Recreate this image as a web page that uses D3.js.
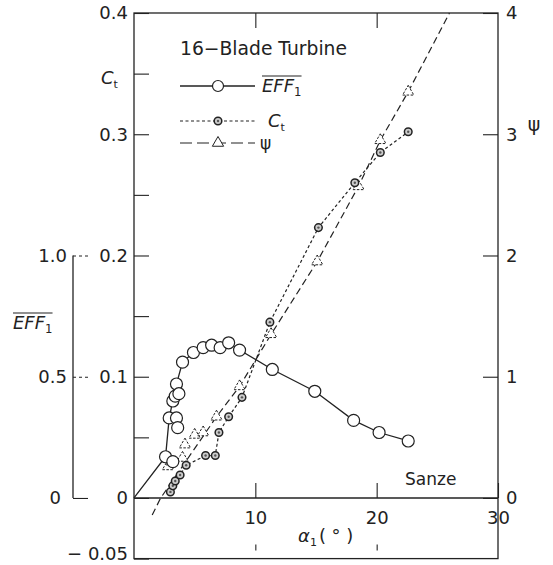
<!DOCTYPE html>
<html>
<head>
<meta charset="utf-8">
<script src="https://cdn.jsdelivr.net/npm/d3@7"></script>
<style>
  body { margin: 0; background: #fff; }
  text { font-family: "DejaVu Sans", sans-serif; fill: #222; }
</style>
</head>
<body>
<div id="chart"></div>
<script>
// ---- data ----
// EFF1 (open circles, solid line)
var effAlpha = [2.6, 2.9, 3.2, 3.4, 3.5, 4.0, 4.9, 5.7, 6.4, 7.1, 7.8, 8.7, 11.4, 14.9, 18.1, 20.2, 22.6];
var effValue = [0.17, 0.33, 0.40, 0.42, 0.47, 0.56, 0.60, 0.62, 0.63, 0.62, 0.64, 0.61, 0.53, 0.44, 0.32, 0.27, 0.235];
var effExtraAlpha = [3.2, 3.5, 3.6, 3.7];
var effExtraValue = [0.15, 0.33, 0.29, 0.43];
var effLineStart = [0, 0];

// Ct (dotted circles, short dashes)
var ctAlpha = [3.0, 3.2, 3.4, 3.8, 4.3, 5.9, 6.7, 7.0, 7.8, 8.9, 11.2, 15.2, 18.2, 20.3, 22.6];
var ctValue = [0.005, 0.010, 0.014, 0.019, 0.027, 0.035, 0.035, 0.054, 0.067, 0.083, 0.145, 0.223, 0.260, 0.285, 0.302];

// psi (triangles, long dashes)
var psiAlpha = [2.8, 3.1, 4.0, 4.2, 5.0, 5.7, 6.8, 8.7, 11.3, 15.1, 18.5, 20.3, 22.6];
var psiValue = [0.26, 0.30, 0.33, 0.44, 0.52, 0.54, 0.67, 0.92, 1.35, 1.95, 2.57, 2.95, 3.35];
var psiLineAlpha = [1.5, 2.2, 6.8, 8.7, 11.3, 15.1, 18.5, 20.3, 22.6, 26.0];
var psiLineValue = [-0.14, 0, 0.67, 0.92, 1.35, 1.95, 2.57, 2.95, 3.35, 4.0];

// tick labels
var ctTicks = [-0.05, 0, 0.1, 0.2, 0.3, 0.4];
var ctMinor = [0.05, 0.15, 0.25, 0.35];
var psiTicks = [0, 1, 2, 3, 4];
var effTicks = [0, 0.5, 1.0];
var alphaTicks = [10, 20, 30];

var width = 553, height = 565;

var svg = d3.select("#chart").append("svg")
    .attr("width", width)
    .attr("height", height);

// scales (all share the same pixel frame)
var x = d3.scaleLinear().domain([0, 30]).range([134, 498]);
var yCt = d3.scaleLinear().domain([-0.05, 0.4]).range([558.6, 13]);
var yPsi = d3.scaleLinear().domain([0, 4]).range([yCt(0), yCt(0.4)]);
var yEff = d3.scaleLinear().domain([0, 1]).range([yCt(0), yCt(0.2)]);

var ink = "#222";

// frame
svg.append("rect")
    .attr("x", x(0)).attr("y", yCt(0.4))
    .attr("width", x(30) - x(0)).attr("height", yCt(-0.05) - yCt(0.4))
    .attr("fill", "none").attr("stroke", ink).attr("stroke-width", 1.3);

// zero line
svg.append("line")
    .attr("x1", x(0)).attr("x2", x(30))
    .attr("y1", yCt(0)).attr("y2", yCt(0))
    .attr("stroke", ink).attr("stroke-width", 1.5);

function styleAxis(g, fs) {
  g.select(".domain").remove();
  g.selectAll(".tick line").attr("stroke", ink).attr("stroke-width", 1.1);
  g.selectAll("text").style("font-size", fs + "px").attr("fill", ink);
}

// left Ct axis
var ctAxis = svg.append("g")
    .attr("transform", "translate(" + x(0) + ",0)")
    .call(d3.axisLeft(yCt).tickValues(ctTicks).tickSize(-15).tickPadding(6)
      .tickFormat(function(d) { return d === 0 ? "0" : (d < 0 ? "\u2212 0.05" : d.toFixed(1)); }))
    .call(styleAxis, 18);
ctAxis.selectAll(".tick text")
    .attr("dy", function(d) { return d < 0 ? "0.05em" : "0.32em"; });
svg.append("g")
    .attr("transform", "translate(" + x(0) + ",0)")
    .call(d3.axisLeft(yCt).tickValues(ctMinor).tickSize(-15).tickFormat(""))
    .call(styleAxis, 18);

// right psi axis
svg.append("g")
    .attr("transform", "translate(" + x(30) + ",0)")
    .call(d3.axisRight(yPsi).tickValues(psiTicks).tickSize(-15).tickPadding(8)
      .tickFormat(d3.format("d")))
    .call(styleAxis, 18);

// x axis on the zero line
var xAxis = svg.append("g")
    .attr("transform", "translate(0," + yCt(0) + ")")
    .call(d3.axisBottom(x).tickValues(alphaTicks).tickSize(-15).tickPadding(10))
    .call(styleAxis, 18);
xAxis.selectAll(".tick text").attr("dy", "0.9em");

// top and bottom border ticks
svg.append("g")
    .attr("transform", "translate(0," + yCt(0.4) + ")")
    .call(d3.axisBottom(x).tickValues([10, 20]).tickSize(15).tickFormat(""))
    .call(styleAxis, 18);
svg.append("g")
    .attr("transform", "translate(0," + (yCt(-0.05) - 8) + ")")
    .call(d3.axisTop(x).tickValues([10, 20]).tickSize(6).tickFormat(""))
    .call(styleAxis, 18);

// EFF axis (separate, to the left)
var effX = 73;
svg.append("line")
    .attr("x1", effX).attr("x2", effX)
    .attr("y1", yEff(1)).attr("y2", yEff(0))
    .attr("stroke", ink).attr("stroke-width", 1.3);
var effAxis = svg.append("g")
    .attr("transform", "translate(" + effX + ",0)")
    .call(d3.axisLeft(yEff).tickValues(effTicks).tickSize(-15).tickPadding(6)
      .tickFormat(function(d) { return d === 0 ? "0" : d.toFixed(1); }))
    .call(styleAxis, 18);
effAxis.selectAll(".tick line")
    .attr("stroke-dasharray", function(d) { return d === 0 ? null : "3,3"; });
effAxis.selectAll(".tick text")
    .attr("x", function(d) { return d === 0 ? -12 : -6; });

// ---- series ----
var effPts = effAlpha.map(function(a, i) { return [a, effValue[i]]; });
var ctPts = ctAlpha.map(function(a, i) { return [a, ctValue[i]]; });
var psiPts = psiAlpha.map(function(a, i) { return [a, psiValue[i]]; });
var psiLinePts = psiLineAlpha.map(function(a, i) { return [a, psiLineValue[i]]; });

var lineEff = d3.line().x(function(d) { return x(d[0]); }).y(function(d) { return yEff(d[1]); });
var lineCt = d3.line().x(function(d) { return x(d[0]); }).y(function(d) { return yCt(d[1]); });
var linePsi = d3.line().x(function(d) { return x(d[0]); }).y(function(d) { return yPsi(d[1]); });

svg.append("path")
    .attr("d", linePsi(psiLinePts))
    .attr("fill", "none").attr("stroke", ink).attr("stroke-width", 1.2)
    .attr("stroke-dasharray", "7,4");

svg.append("path")
    .attr("d", lineCt(ctPts))
    .attr("fill", "none").attr("stroke", ink).attr("stroke-width", 1.2)
    .attr("stroke-dasharray", "3,2.5");

svg.append("path")
    .attr("d", lineEff([effLineStart].concat(effPts)))
    .attr("fill", "none").attr("stroke", ink).attr("stroke-width", 1.3);

// triangles
svg.append("g").selectAll("path")
    .data(psiPts)
    .enter().append("path")
      .attr("transform", function(d) { return "translate(" + x(d[0]) + "," + yPsi(d[1]) + ")"; })
      .attr("d", d3.symbol().type(d3.symbolTriangle).size(55))
      .attr("fill", "#fff").attr("stroke", ink).attr("stroke-width", 1)
      .attr("stroke-dasharray", "2.5,1.5");

// Ct markers
var ctG = svg.append("g").selectAll("g")
    .data(ctPts)
    .enter().append("g")
      .attr("transform", function(d) { return "translate(" + x(d[0]) + "," + yCt(d[1]) + ")"; });
ctG.append("circle").attr("r", 3.8)
    .attr("fill", "#ccc").attr("stroke", ink).attr("stroke-width", 1.5);
ctG.append("circle").attr("r", 1.2).attr("fill", "#555");

// EFF markers
var effAll = effPts.concat(effExtraAlpha.map(function(a, i) { return [a, effExtraValue[i]]; }));
svg.append("g").selectAll("circle")
    .data(effAll)
    .enter().append("circle")
      .attr("cx", function(d) { return x(d[0]); })
      .attr("cy", function(d) { return yEff(d[1]); })
      .attr("r", 6)
      .attr("fill", "#fff").attr("stroke", ink).attr("stroke-width", 1.2);

// ---- labels ----
// Ct axis title
var ctLab = svg.append("text").attr("x", 101).attr("y", 84).style("font-size", "18px");
ctLab.append("tspan").text("C").style("font-style", "italic");
ctLab.append("tspan").text("t").attr("dy", 4).style("font-size", "11px");

// psi axis title
svg.append("text").attr("x", 534).attr("y", 131).attr("text-anchor", "middle")
    .style("font-size", "19px").text("\u03c8");

// EFF axis title with overline
function effLabel(g, xx, yy, fs) {
  var t = g.append("text").attr("x", xx).attr("y", yy).style("font-size", fs + "px");
  t.append("tspan").text("EFF").style("font-style", "italic");
  t.append("tspan").text("1").attr("dy", 4).style("font-size", (fs * 0.65) + "px");
  var bb = t.node().getBBox();
  g.append("line")
    .attr("x1", bb.x).attr("x2", bb.x + bb.width)
    .attr("y1", bb.y + 1).attr("y2", bb.y + 1)
    .attr("stroke", ink).attr("stroke-width", 1.2);
}
effLabel(svg, 13, 329, 18);

// x axis title
var xLab = svg.append("text").attr("x", 298).attr("y", 542).style("font-size", "18px");
xLab.append("tspan").text("\u03b1").style("font-style", "italic");
xLab.append("tspan").text("1").attr("dy", 4).style("font-size", "11px");
xLab.append("tspan").text("( \u00b0 )").attr("dy", -4).attr("dx", 2);

svg.append("text").attr("x", 405).attr("y", 485).style("font-size", "17px").text("Sanze");

// legend
svg.append("text").attr("x", 180).attr("y", 55)
    .attr("textLength", 167).attr("lengthAdjust", "spacingAndGlyphs")
    .style("font-size", "19px").text("16\u2212Blade Turbine");

var legendY = [86, 121, 143];
var lx0 = 180, lx1 = 255, lm = 218;

svg.append("line").attr("x1", lx0).attr("x2", lx1).attr("y1", legendY[0]).attr("y2", legendY[0])
    .attr("stroke", ink).attr("stroke-width", 1.3);
svg.append("circle").attr("cx", lm).attr("cy", legendY[0]).attr("r", 5.5)
    .attr("fill", "#fff").attr("stroke", ink).attr("stroke-width", 1.2);
effLabel(svg, 262, legendY[0] + 6, 18);

svg.append("line").attr("x1", lx0).attr("x2", lx1).attr("y1", legendY[1]).attr("y2", legendY[1])
    .attr("stroke", ink).attr("stroke-width", 1.2).attr("stroke-dasharray", "3,2.5");
svg.append("circle").attr("cx", lm).attr("cy", legendY[1]).attr("r", 3.8)
    .attr("fill", "#ccc").attr("stroke", ink).attr("stroke-width", 1.5);
svg.append("circle").attr("cx", lm).attr("cy", legendY[1]).attr("r", 1.2).attr("fill", "#555");
var ctLeg = svg.append("text").attr("x", 268).attr("y", legendY[1] + 6).style("font-size", "18px");
ctLeg.append("tspan").text("C").style("font-style", "italic");
ctLeg.append("tspan").text("t").attr("dy", 4).style("font-size", "11px");

svg.append("line").attr("x1", lx0).attr("x2", lx1).attr("y1", legendY[2]).attr("y2", legendY[2])
    .attr("stroke", ink).attr("stroke-width", 1.2).attr("stroke-dasharray", "12,5");
svg.append("path")
    .attr("transform", "translate(" + lm + "," + legendY[2] + ")")
    .attr("d", d3.symbol().type(d3.symbolTriangle).size(55))
    .attr("fill", "#fff").attr("stroke", ink).attr("stroke-width", 1);
svg.append("text").attr("x", 260).attr("y", legendY[2] + 6).style("font-size", "17px").text("\u03c8");
</script>
</body>
</html>
